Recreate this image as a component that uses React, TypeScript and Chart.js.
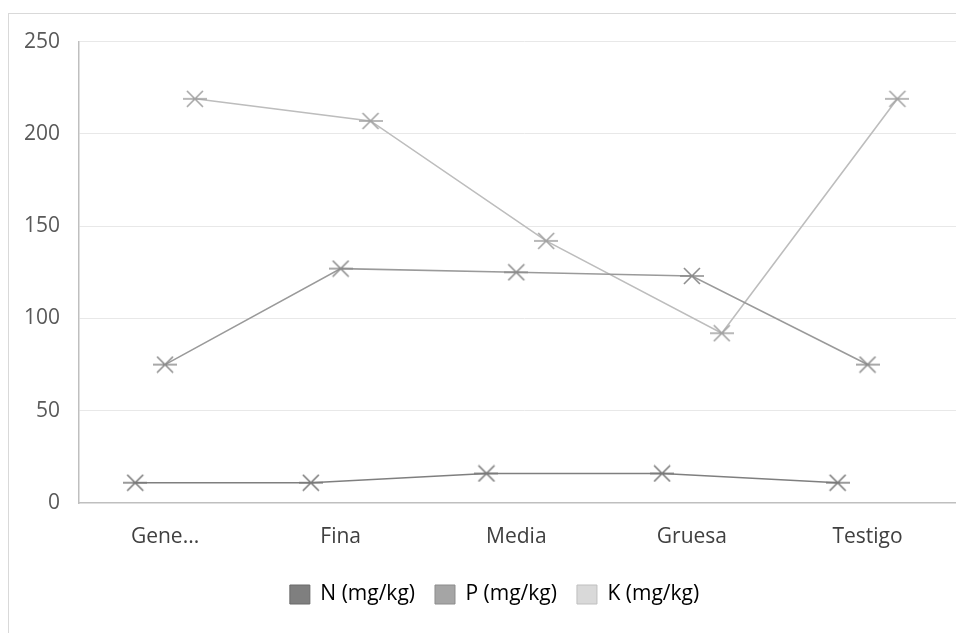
import React, { useEffect, useRef } from "react";
import { Chart, registerables } from "chart.js";

Chart.register(...registerables);

const categories = ["Gene...", "Fina", "Media", "Gruesa", "Testigo"];
const nValues = [11, 11, 16, 16, 11];
const pValues = [75, 127, 125, 123, 75];
const kValues = [219, 207, 142, 92, 219];
const seriesNames = ["N (mg/kg)", "P (mg/kg)", "K (mg/kg)"];
const yTicks = [0, 50, 100, 150, 200, 250];
const seriesOffsets = [-0.17, 0, 0.17];

const lineColors = ["#7f7f7f", "#9a9a9a", "#bdbdbd"];
const markerColors = ["#7a7a7a", "#8c8c8c", "#a3a3a3"];
const legendFill = ["#7f7f7f", "#a5a5a5", "#d9d9d9"];
const legendStroke = ["#6a6a6a", "#8c8c8c", "#bfbfbf"];

function makeMarker(color: string): HTMLCanvasElement {
  const c = document.createElement("canvas");
  c.width = 24;
  c.height = 18;
  const ctx = c.getContext("2d")!;
  ctx.strokeStyle = color;
  ctx.lineWidth = 1.6;
  ctx.beginPath();
  ctx.moveTo(4, 1);
  ctx.lineTo(20, 17);
  ctx.moveTo(20, 1);
  ctx.lineTo(4, 17);
  ctx.moveTo(0, 9);
  ctx.lineTo(24, 9);
  ctx.stroke();
  return c;
}

export default function App() {
  const ref = useRef<HTMLCanvasElement | null>(null);

  useEffect(() => {
    document.body.style.overflow = "hidden";
    if (!ref.current) return;
    const all = [nValues, pValues, kValues];
    const datasets = all.map((vals, s) => ({
      label: seriesNames[s],
      data: vals.map((v, i) => ({ x: i + seriesOffsets[s], y: v })),
      borderColor: lineColors[s],
      backgroundColor: legendFill[s],
      borderWidth: 1.6,
      pointStyle: makeMarker(markerColors[s]) as any,
      pointRadius: 9,
      pointHoverRadius: 9,
      tension: 0,
      fill: false,
    }));

    const font = { family: "'Open Sans', sans-serif", size: 21 };

    const chart = new Chart(ref.current, {
      type: "line",
      data: { datasets },
      options: {
        animation: false,
        responsive: false,
        maintainAspectRatio: false,
        layout: { padding: { top: 23, bottom: 14, left: 0, right: 0 } },
        plugins: {
          tooltip: { enabled: false },
          legend: {
            position: "bottom",
            labels: {
              boxWidth: 20,
              boxHeight: 19,
              padding: 20,
              color: "#595959",
              font,
              generateLabels: () =>
                seriesNames.map((name, i) => ({
                  text: name,
                  fillStyle: legendFill[i],
                  strokeStyle: legendStroke[i],
                  lineWidth: 1,
                  hidden: false,
                  datasetIndex: i,
                })),
            },
          },
        },
        scales: {
          x: {
            type: "linear",
            min: -0.49,
            max: 4.58,
            afterBuildTicks: (scale: any) => {
              scale.ticks = categories.map((_, i) => ({ value: i }));
            },
            afterFit: (scale: any) => {
              scale.height = 61;
            },
            grid: { display: false },
            border: { display: true, color: "#bfbfbf", width: 1.5 },
            ticks: {
              autoSkip: false,
              maxRotation: 0,
              padding: 13,
              color: "#404040",
              font,
              callback: (v: any) => categories[Math.round(Number(v))] ?? "",
            },
          },
          y: {
            min: 0,
            max: 250,
            afterBuildTicks: (scale: any) => {
              scale.ticks = yTicks.map((v) => ({ value: v }));
            },
            afterFit: (scale: any) => {
              scale.width = 70;
            },
            grid: {
              color: (ctx: any) => (ctx.tick && ctx.tick.value === 0 ? "rgba(0,0,0,0)" : "#e8e8e8"),
              lineWidth: 1,
              drawTicks: false,
            },
            border: { display: true, color: "#bfbfbf", width: 1.5 },
            ticks: {
              padding: 19,
              color: "#595959",
              font,
            },
          },
        },
      },
    });
    return () => chart.destroy();
  }, []);

  return (
    <div
      style={{
        position: "fixed",
        left: 0,
        top: 0,
        width: 956,
        height: 633,
        overflow: "hidden",
        background: "#fff",
      }}
    >
      <div
        style={{
          position: "absolute",
          left: 8,
          top: 13,
          width: 1000,
          height: 640,
          borderLeft: "1px solid #d9d9d9",
          borderTop: "1px solid #d9d9d9",
          boxSizing: "border-box",
          background: "#fff",
          overflow: "hidden",
        }}
      >
        <canvas ref={ref} width={971} height={619} style={{ display: "block", marginTop: -4 }} />
      </div>
    </div>
  );
}
